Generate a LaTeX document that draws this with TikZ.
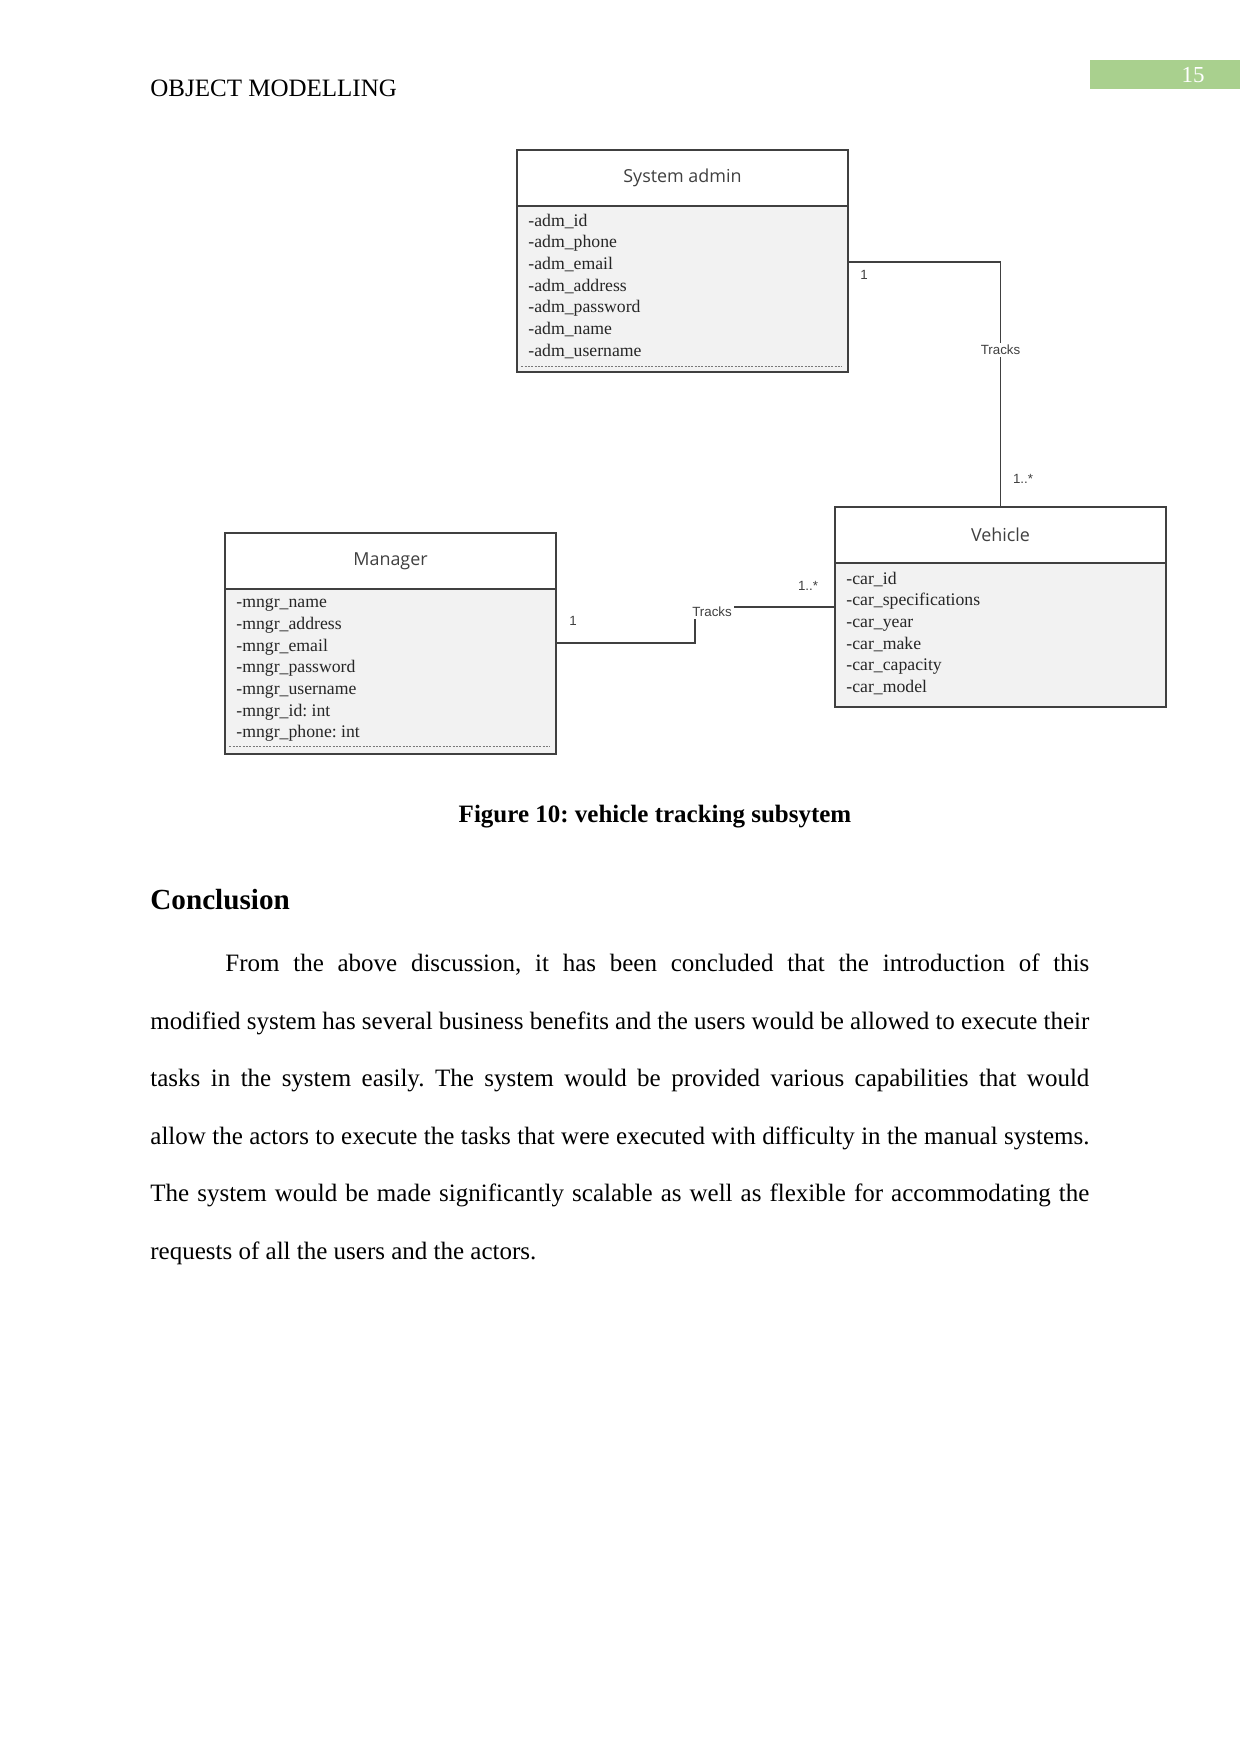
\documentclass[tikz,border=0pt]{standalone}
\usepackage{fontspec}
\setmainfont{Liberation Serif}
\newfontfamily\umlfont{Open Sans}
\newfontfamily\labelfont{Liberation Sans}
\usetikzlibrary{positioning}
\definecolor{pagegreen}{RGB}{169,208,142}
\definecolor{umlgrey}{RGB}{64,64,64}
\definecolor{attrfill}{RGB}{242,242,242}
\frenchspacing
\tikzset{
	classhead/.style={draw=umlgrey,line width=0.7pt,fill=white,minimum width=158.9pt,minimum height=26.9pt,inner sep=0pt,outer sep=0pt,font=\umlfont\fontsize{8.6}{10}\selectfont,text=umlgrey},
	classbody/.style={draw=umlgrey,line width=0.7pt,fill=attrfill,minimum width=158.9pt,inner sep=0pt,outer sep=0pt},
	attrs/.style={align=left,inner sep=0pt,font=\fontsize{8.5}{10.4}\selectfont,text=black!85},
	mult/.style={font=\labelfont\fontsize{6.4}{7}\selectfont,text=umlgrey,inner sep=1pt},
	assoc/.style={draw=umlgrey,line width=0.6pt},
	attrline/.style={dash pattern=on 1pt off 0.6pt,draw=umlgrey!70,line width=0.4pt}
}

\begin{document}
\begin{tikzpicture}[x=0.48pt,y=-0.48pt,font=\fontsize{12}{14.4}\selectfont]
	\useasboundingbox (0,0) rectangle (1241,1754);
	% page header
	\node[anchor=base west,inner sep=0pt] (runhead) at (150,96) {OBJECT MODELLING};
	\node[fill=pagegreen,anchor=north west,minimum width=72pt,minimum height=13.6pt,inner sep=0pt] (pagebox) at (1090,60) {};
	\node[anchor=base,inner sep=0pt,text=white,font=\fontsize{11}{13}\selectfont] (pageno) at (1193,82) {15};
	
	% classes
	\node[classhead,anchor=north west] (adminhead) at (517,150) {System admin};
	\node[classbody,minimum height=79.7pt,below=0pt of adminhead] (adminbody) {};
	\node[attrs,below right=2.1pt and 5.3pt of adminbody.north west] (adminattrs) {\strut-adm\_id\\-adm\_phone\\-adm\_email\\-adm\_address\\-adm\_password\\-adm\_name\\-adm\_username};
	\draw[attrline] ([shift={(2pt,2.9pt)}]adminbody.south west) -- ([shift={(-3pt,2.9pt)}]adminbody.south east);
	
	\node[classhead,anchor=north west] (vehiclehead) at (835,507) {Vehicle};
	\node[classbody,minimum height=69.1pt,below=0pt of vehiclehead] (vehiclebody) {};
	\node[attrs,below right=2.6pt and 5.3pt of vehiclebody.north west] (vehicleattrs) {\strut-car\_id\\-car\_specifications\\-car\_year\\-car\_make\\-car\_capacity\\-car\_model};
	
	\node[classhead,anchor=north west] (managerhead) at (225,533) {Manager};
	\node[classbody,minimum height=79.2pt,below=0pt of managerhead] (managerbody) {};
	\node[attrs,below right=1.6pt and 5.3pt of managerbody.north west] (managerattrs) {\strut-mngr\_name\\-mngr\_address\\-mngr\_email\\-mngr\_password\\-mngr\_username\\-mngr\_id: int\\-mngr\_phone: int};
	\draw[attrline] ([shift={(2pt,3.8pt)}]managerbody.south west) -- ([shift={(-3pt,3.8pt)}]managerbody.south east);
	
	% associations
	\coordinate (adminout) at (848,262);
	\draw[assoc] (adminbody.east |- adminout) -| node[mult,pos=0.68,fill=white] (admintracks) {Tracks} (vehiclehead.north);
	\node[mult] (adminone) at (864,275) {1};
	\node[mult] (vehiclemany) at (1023,479) {1..*};
	
	\coordinate (mgrout) at (556,643);
	\coordinate (mgrbend) at (695,607);
	\draw[assoc] (managerbody.east |- mgrout) -| (mgrbend) -- (vehiclebody.west |- mgrbend);
	\node[mult,fill=white] (mgrtracks) at (712,612) {Tracks};
	\node[mult] (mgrone) at (573,621) {1};
	\node[mult] (vehiclemany2) at (808,586) {1..*};
	
	% caption and text
	\node[anchor=base,inner sep=0pt,font=\bfseries\fontsize{12}{14.4}\selectfont] (caption) at (655,822) {Figure 10: vehicle tracking subsytem};
	\node[anchor=base west,inner sep=0pt,font=\bfseries\fontsize{14}{17}\selectfont] (conchead) at (150,909) {Conclusion};
	\node[anchor=base west,inner sep=0pt,text width=450.7pt,align=justify,font=\fontsize{12}{27.6}\selectfont] (concpar) at (150,971.7) {\hyphenpenalty=10000\tolerance=9999\hspace*{36pt}From the above discussion, it has been concluded that the introduction of this\linebreak
		modified system has several business benefits and the users would be allowed to execute their\linebreak
		tasks in the system easily. The system would be provided various capabilities that would\linebreak
		allow the actors to execute the tasks that were executed with difficulty in the manual systems.\linebreak
		The system would be made significantly scalable as well as flexible for accommodating the\linebreak
		requests of all the users and the actors.};
\end{tikzpicture}
\end{document}
